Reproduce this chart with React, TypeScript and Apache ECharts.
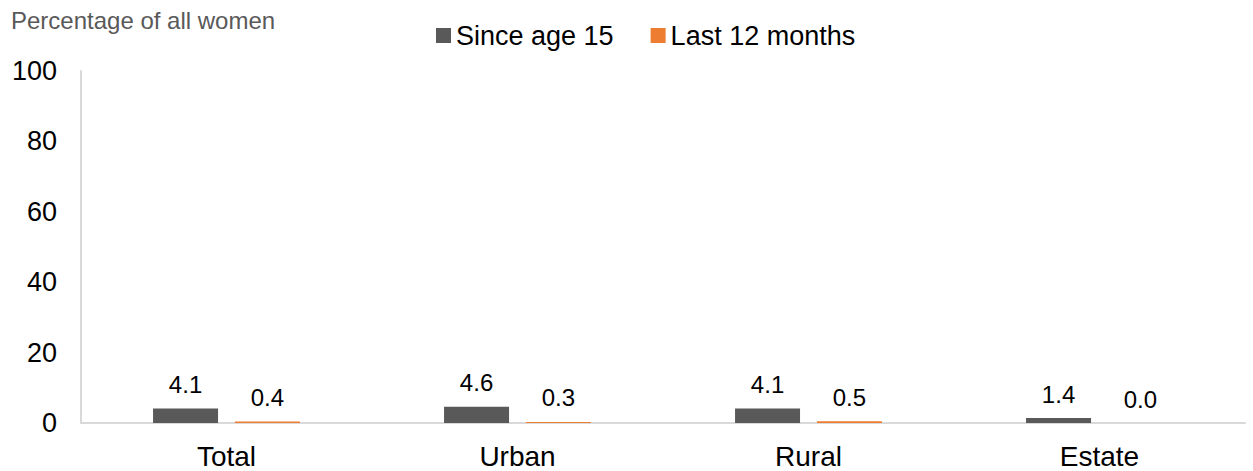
import React, { useEffect, useRef } from "react";
import * as echarts from "echarts";

const categories = ["Total", "Urban", "Rural", "Estate"];
const sinceAge15 = [4.1, 4.6, 4.1, 1.4];
const last12Months = [0.4, 0.3, 0.5, 0.0];
const seriesNames = ["Since age 15", "Last 12 months"];
const yTicks = { min: 0, max: 100, interval: 20 };
const titleText = "Percentage of all women";

const FONT = "'Liberation Sans', Arial, sans-serif";

export default function App() {
  const ref = useRef<HTMLDivElement>(null);
  useEffect(() => {
    if (!ref.current) return;
    const chart = echarts.init(ref.current, undefined, { renderer: "svg" });
    const labelStyle = {
      show: true,
      position: "top" as const,
      distance: 12,
      fontFamily: FONT,
      fontSize: 24,
      color: "#000",
      formatter: (p: any) => Number(p.value).toFixed(1),
    };
    chart.setOption({
      animation: false,
      textStyle: { fontFamily: FONT },
      title: {
        text: titleText,
        left: 6,
        top: 3,
        textStyle: { fontFamily: FONT, fontSize: 24, fontWeight: "normal", color: "#595959" },
      },
      legend: {
        left: 431,
        top: 17,
        itemWidth: 15,
        itemHeight: 15,
        itemGap: 37,
        icon: "rect",
        textStyle: { fontFamily: FONT, fontSize: 27, color: "#000" },
        data: seriesNames,
      },
      grid: { left: 81, right: 8, top: 71, bottom: 48, containLabel: false },
      xAxis: {
        type: "category",
        data: categories,
        axisLine: { show: true, lineStyle: { color: "#d9d9d9", width: 2 } },
        axisTick: { show: false },
        axisLabel: { fontFamily: FONT, fontSize: 28, color: "#000", margin: 19 },
      },
      yAxis: {
        type: "value",
        min: yTicks.min,
        max: yTicks.max,
        interval: yTicks.interval,
        axisLine: { show: true, lineStyle: { color: "#d9d9d9", width: 2 } },
        axisTick: { show: false },
        splitLine: { show: false },
        axisLabel: { fontFamily: FONT, fontSize: 27, color: "#000", margin: 24 },
      },
      series: [
        {
          name: seriesNames[0],
          type: "bar",
          data: sinceAge15,
          barWidth: 65,
          barGap: "26%",
          itemStyle: { color: "#595959" },
          label: labelStyle,
        },
        {
          name: seriesNames[1],
          type: "bar",
          data: last12Months,
          barWidth: 65,
          itemStyle: { color: "#ED7D31" },
          label: labelStyle,
        },
      ],
    });
    return () => chart.dispose();
  }, []);
  return <div ref={ref} style={{ width: 1253, height: 471, position: "absolute", left: 0, top: 0 }} />;
}
